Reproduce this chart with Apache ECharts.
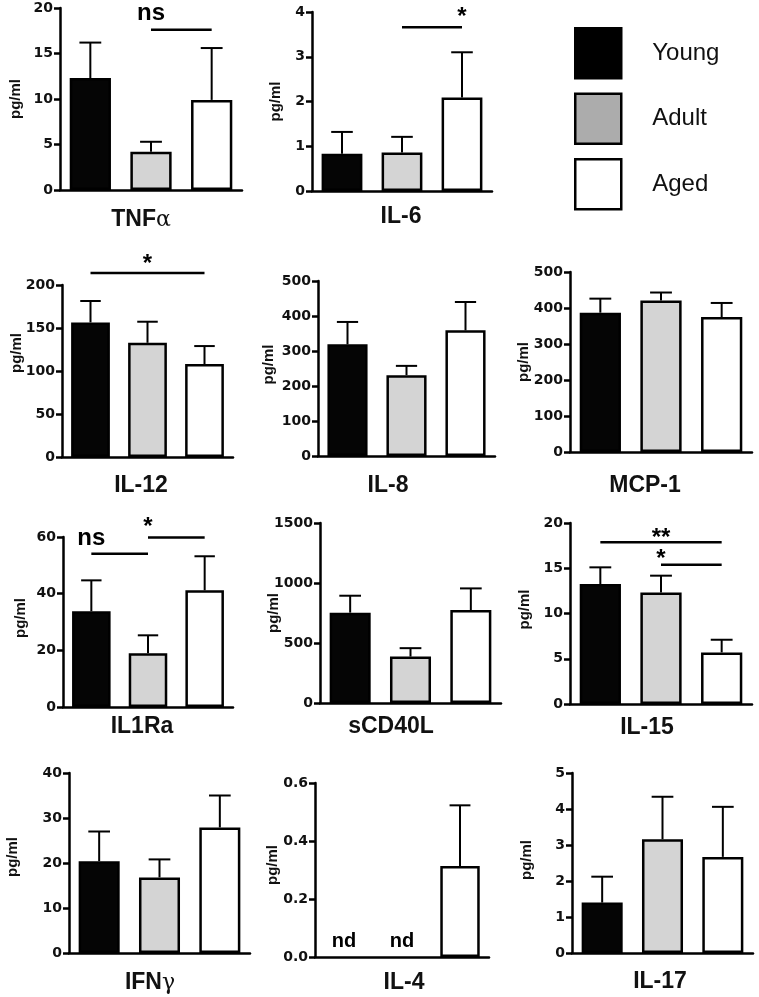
<!DOCTYPE html>
<html>
<head>
<meta charset="utf-8">
<title>Cytokine levels by age group</title>
<script src="https://cdn.jsdelivr.net/npm/echarts@6/dist/echarts.min.js"></script>
<style>
  html, body { margin: 0; padding: 0; background: #fff; }
  #chart { width: 759px; height: 997px; }
</style>
</head>
<body>
<div id="chart"></div>
<script>
// one panel per analyte, three age groups each
const analytes = ["TNF{g|α}", "IL-6", "IL-12", "IL-8", "MCP-1", "IL1Ra", "sCD40L", "IL-15", "IFN{g|γ}", "IL-4", "IL-17"];
const groups = ["Young", "Adult", "Aged"];

// mean values (pg/ml), null = not detected
const young = [12.3, 0.83, 156.5, 319, 387, 33.8, 753, 13.26, 20.4, null, 1.40];
const adult = [4.2, 0.86, 132.8, 231, 421, 19.0, 387, 12.33, 16.8, null, 3.16];
const aged = [9.9, 2.09, 108, 359, 375, 41.2, 775, 5.7, 27.9, 0.314, 2.67];

// upper error (SEM)
const youngErr = [3.9, 0.49, 24.9, 64, 39, 10.9, 141, 1.84, 6.6, null, 0.72];
const adultErr = [1.1, 0.35, 24.5, 26.5, 22, 6.3, 70, 1.85, 4.0, null, 1.18];
const agedErr = [5.7, 1.01, 21, 81, 39, 12.0, 180, 1.4, 7.1, 0.209, 1.39];

// y axis ranges
const yMax = [20, 4, 200, 500, 500, 60, 1500, 20, 40, 0.6, 5];
const yStep = [5, 1, 50, 100, 100, 20, 500, 5, 10, 0.2, 1];

// significance bars
const sigPanel = [0, 1, 2, 5, 5, 7, 7];
const sigFrom = [1, 0.93, 0, -0.1, 0.98, -0.07, 0.98];
const sigTo = [2, 2.02, 2.12, 0.95, 2.04, 1.96, 1.96];
const sigY = [17.6, 3.66, 214, 54.1, 59.8, 17.86, 15.39];
const sigText = ["ns", "*", "*", "ns", "*", "**", "*"];
const sigTextX = [1.38, 1.5, 1.0, 0.37, 1.43, 0.9, 1.47];
const sigTextY = [19.4, 3.99, 230, 59.4, 65.2, 18.9, 16.5];

// panel layout (pixels)
const gridLeft = [60, 312, 62, 318, 570, 63, 320, 570, 69, 315, 572];
const gridTop = [8, 12, 285, 281, 272, 537, 523, 523, 773, 783, 773];
const gridWidth = [182, 180, 171, 177, 182, 170, 181, 182, 181, 174, 181];
const gridHeight = [182, 179, 172, 175, 180, 170, 180, 181, 180, 174, 180];
const titleX = [141, 401, 141, 388, 645, 142, 391, 647, 150, 404, 660];
const titleY = [220, 217, 486, 486, 486, 727, 727, 728, 983, 983, 982];
const nameDist = [45, 37, 46, 50, 47, 43, 47, 46, 57, 43, 46];
const nameShift = [0, 0, 18, 4, 0, 4, 0, 4, 6, 5, 3];

const fills = ["#050505", "#d4d4d4", "#ffffff"];
const means = [young, adult, aged];
const errs = [youngErr, adultErr, agedErr];

function renderErr(params, api) {
  const x = api.value(0), v = api.value(1), e = api.value(2);
  const base = api.coord([x, v]);
  const top = api.coord([x, v + e]);
  const half = api.size([1, 0])[0] * 0.18;
  const style = { stroke: "#000", lineWidth: 2 };
  return {
    type: "group",
    children: [
      { type: "line", shape: { x1: base[0], y1: base[1], x2: top[0], y2: top[1] }, style: style },
      { type: "line", shape: { x1: top[0] - half, y1: top[1], x2: top[0] + half, y2: top[1] }, style: style }
    ]
  };
}

const grids = [], xAxes = [], yAxes = [], titles = [], series = [];

analytes.forEach((name, p) => {
  grids.push({ left: gridLeft[p], top: gridTop[p], width: gridWidth[p], height: gridHeight[p], containLabel: false });
  xAxes.push({
    type: "category", gridIndex: p, data: groups, boundaryGap: true,
    axisLine: { lineStyle: { color: "#000", width: 2.5 } },
    axisTick: { alignWithLabel: true, length: 7, lineStyle: { color: "#000", width: 2.5 } },
    axisLabel: { show: false }
  });
  yAxes.push({
    type: "value", gridIndex: p, min: 0, max: yMax[p], interval: yStep[p],
    axisLine: { show: true, lineStyle: { color: "#000", width: 2.5 } },
    axisTick: { show: true, length: 6, lineStyle: { color: "#000", width: 2.5 } },
    splitLine: { show: false },
    axisLabel: {
      fontFamily: "DejaVu Sans", fontWeight: "bold", fontSize: 14, color: "#111", margin: 7,
      formatter: (v) => (yStep[p] < 1 ? v.toFixed(1) : String(v))
    },
    name: "pg/ml", nameLocation: "middle", nameGap: nameDist[p] - 8, nameMoveOverlap: false,
    nameTextStyle: {
      fontFamily: "Liberation Sans", fontWeight: "bold", fontSize: 15, color: "#111",
      padding: [0, 0, 0, nameShift[p] * 2]
    }
  });
  titles.push({
    text: name, left: titleX[p], top: titleY[p], textAlign: "center", textVerticalAlign: "middle", padding: 0,
    textStyle: {
      fontFamily: "Liberation Sans", fontWeight: "bold", fontSize: 23, color: "#111",
      rich: { g: { fontFamily: "DejaVu Serif", fontWeight: "normal", fontSize: 22, color: "#111" } }
    }
  });

  groups.forEach((g, k) => {
    series.push({
      type: "bar", name: g, xAxisIndex: p, yAxisIndex: p, stack: "p" + p, barWidth: "68%",
      data: groups.map((_, j) => (j === k && means[k][p] != null ? means[k][p] : "-")),
      itemStyle: { color: fills[k], borderColor: "#000", borderWidth: 2.5 },
      emphasis: { disabled: true }, z: 2
    });
  });

  const errData = [];
  groups.forEach((g, k) => {
    if (means[k][p] != null) errData.push([k, means[k][p], errs[k][p]]);
  });
  series.push({
    type: "custom", xAxisIndex: p, yAxisIndex: p, renderItem: renderErr, data: errData,
    silent: true, z: 3, encode: { x: 0, y: 1 }
  });
});

// significance lines and marks
sigText.forEach((t, s) => {
  const p = sigPanel[s];
  series.push({
    type: "line", xAxisIndex: p, yAxisIndex: p, symbol: "none", clip: false, silent: true,
    data: [[sigFrom[s], sigY[s]], [sigTo[s], sigY[s]]],
    lineStyle: { color: "#000", width: 2.5 }, z: 4
  });
  series.push({
    type: "scatter", xAxisIndex: p, yAxisIndex: p, symbolSize: 0, clip: false, silent: true,
    data: [[sigTextX[s], sigTextY[s]]],
    itemStyle: { opacity: 1 },
    label: {
      show: true, position: "inside", formatter: t,
      offset: t.indexOf("*") >= 0 ? [0, 5] : [0, 0],
      fontFamily: "Liberation Sans", fontWeight: "bold", fontSize: 24, color: "#000"
    }
  });
});

// not-detected marks on IL-4
series.push({
  type: "scatter", xAxisIndex: 9, yAxisIndex: 9, symbolSize: 0, silent: true, clip: false,
  data: [[0, 0.055], [1, 0.055]],
  itemStyle: { opacity: 1 },
  label: {
    show: true, position: "inside", formatter: "nd",
    fontFamily: "Liberation Sans", fontWeight: "bold", fontSize: 20, color: "#000"
  }
});

const chart = echarts.init(document.getElementById("chart"), null, { renderer: "canvas" });
chart.setOption({
  animation: false,
  backgroundColor: "#fff",
  title: titles,
  legend: {
    data: [
      { name: "Young", itemStyle: { color: "#000" } },
      { name: "Adult", itemStyle: { color: "#acacac" } },
      { name: "Aged", itemStyle: { color: "#fff" } }
    ],
    icon: "rect", orient: "vertical", left: 574, top: 27, padding: 0,
    itemWidth: 46, itemHeight: 50, itemGap: 13, selectedMode: false,
    itemStyle: { borderColor: "#000", borderWidth: 2.5 },
    textStyle: { fontFamily: "Liberation Sans", fontSize: 24, color: "#111", padding: [0, 0, 0, 26] }
  },
  grid: grids,
  xAxis: xAxes,
  yAxis: yAxes,
  series: series
});
</script>
</body>
</html>
